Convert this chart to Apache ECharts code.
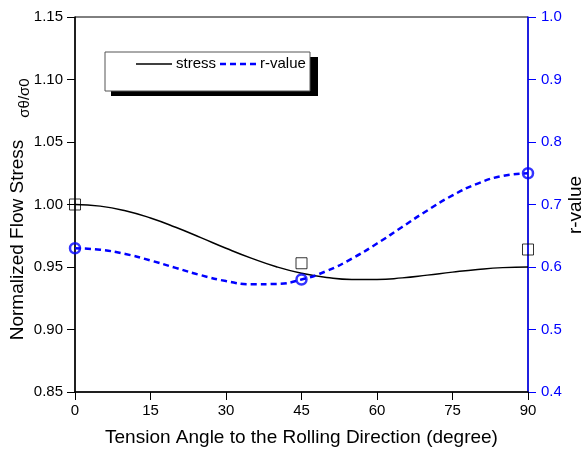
<!DOCTYPE html>
<html>
<head>
<meta charset="utf-8">
<script src="https://cdn.jsdelivr.net/npm/echarts@6/dist/echarts.min.js"></script>
<style>html,body{margin:0;padding:0;background:#fff;}#c{width:587px;height:452px;}</style>
</head>
<body>
<div id="c"></div>
<script>
// Data
var angles = [0, 5, 10, 15, 20, 25, 30, 35, 40, 45, 50, 55, 60, 65, 70, 75, 80, 85, 90];
var stressCurve = [1.000, 0.9987, 0.9950, 0.9892, 0.9818, 0.9735, 0.9650, 0.9571, 0.9502, 0.9450, 0.9416, 0.9400, 0.9400, 0.9413, 0.9435, 0.9459, 0.9480, 0.9495, 0.9500];
var rCurve = [0.630, 0.6276, 0.6208, 0.6105, 0.5986, 0.5869, 0.5775, 0.5724, 0.5729, 0.580, 0.5937, 0.6134, 0.6375, 0.6640, 0.6905, 0.7145, 0.7335, 0.7458, 0.750];
var measAngles = [0, 45, 90];
var stressMeas = [1.000, 0.953, 0.964];
var rMeas = [0.630, 0.580, 0.750];
var xTicks = [0, 15, 30, 45, 60, 75, 90];
var seriesNames = ['stress', 'r-value'];

function pairs(xs, ys) { return xs.map(function (x, i) { return [x, ys[i]]; }); }

var FONT = 'Liberation Sans, Arial, sans-serif';
var BLUE = '#0000ff';
var chart = echarts.init(document.getElementById('c'));
chart.setOption({
  animation: false,
  backgroundColor: '#fff',
  grid: { left: 75, right: 59, top: 17, bottom: 60, show: true, borderColor: '#000', borderWidth: 1 },
  xAxis: {
    type: 'value', min: xTicks[0], max: xTicks[xTicks.length - 1], interval: 15,
    axisLine: { show: true, lineStyle: { color: '#000', width: 1.5 } },
    axisTick: { show: true, length: 8, lineStyle: { color: '#000' } },
    axisLabel: { color: '#000', fontSize: 15, fontFamily: FONT, margin: 11 },
    splitLine: { show: false },
    name: 'Tension Angle to the Rolling Direction (degree)',
    nameLocation: 'middle', nameGap: 36,
    nameTextStyle: { color: '#000', fontSize: 19, fontFamily: FONT }
  },
  yAxis: [{
    type: 'value', min: 0.85, max: 1.15, interval: 0.05,
    axisLine: { show: true, lineStyle: { color: '#000', width: 1.5 } },
    axisTick: { show: true, length: 8, lineStyle: { color: '#000' } },
    axisLabel: { color: '#000', fontSize: 15, fontFamily: FONT, margin: 12, formatter: function (v) { return v.toFixed(2); } },
    splitLine: { show: false }
  }, {
    type: 'value', min: 0.4, max: 1.0, interval: 0.1, position: 'right',
    axisLine: { show: true, lineStyle: { color: BLUE, width: 1.5 } },
    axisTick: { show: true, length: 8, lineStyle: { color: BLUE } },
    axisLabel: { color: BLUE, fontSize: 15, fontFamily: FONT, margin: 13, formatter: function (v) { return v.toFixed(1); } },
    splitLine: { show: false }
  }],
  graphic: [
    { type: 'rect', z: 1, shape: { x: 111, y: 57, width: 207, height: 39 }, style: { fill: '#000' } },
    { type: 'rect', z: 2, shape: { x: 105, y: 52, width: 205, height: 39 }, style: { fill: '#fff', stroke: '#555', lineWidth: 1 } },
    { type: 'line', z: 3, shape: { x1: 136, y1: 64, x2: 172, y2: 64 }, style: { stroke: '#000', lineWidth: 1.5 } },
    { type: 'text', z: 3, x: 176, y: 64, style: { text: seriesNames[0], align: 'left', verticalAlign: 'middle', fontSize: 15, fontFamily: FONT, fill: '#000' } },
    { type: 'line', z: 3, shape: { x1: 220, y1: 64, x2: 258, y2: 64 }, style: { stroke: BLUE, lineWidth: 2.5, lineDash: [6, 4] } },
    { type: 'text', z: 3, x: 260, y: 64, style: { text: seriesNames[1], align: 'left', verticalAlign: 'middle', fontSize: 15, fontFamily: FONT, fill: '#000' } },
    { type: 'text', z: 5, x: 18, y: 240, rotation: Math.PI / 2,
      style: { text: 'Normalized Flow Stress', align: 'center', verticalAlign: 'middle', fontSize: 19, fontFamily: FONT, fill: '#000' } },
    { type: 'text', z: 5, x: 25, y: 98, rotation: Math.PI / 2,
      style: { text: 'σθ/σ0', align: 'center', verticalAlign: 'middle', fontSize: 15, fontFamily: FONT, fill: '#000' } },
    { type: 'text', z: 5, x: 576, y: 205, rotation: Math.PI / 2,
      style: { text: 'r-value', align: 'center', verticalAlign: 'middle', fontSize: 19, fontFamily: FONT, fill: '#000' } }
  ],
  series: [{
    name: seriesNames[0], type: 'line', yAxisIndex: 0, smooth: true, symbol: 'none',
    data: pairs(angles, stressCurve),
    lineStyle: { color: '#000', width: 1.5 }, itemStyle: { color: '#000' }
  }, {
    name: seriesNames[1], type: 'line', yAxisIndex: 1, smooth: true, symbol: 'none',
    data: pairs(angles, rCurve),
    lineStyle: { color: BLUE, width: 2.5, type: [6, 4] }, itemStyle: { color: BLUE }
  }, {
    name: 'stress-pts', type: 'scatter', yAxisIndex: 0, symbol: 'rect', symbolSize: 11, clip: false,
    data: pairs(measAngles, stressMeas),
    itemStyle: { color: 'rgba(255,255,255,0)', borderColor: '#000', borderWidth: 1 }, z: 5
  }, {
    name: 'r-pts', type: 'scatter', yAxisIndex: 1, symbol: 'circle', symbolSize: 10, clip: false,
    data: pairs(measAngles, rMeas),
    itemStyle: { color: 'rgba(255,255,255,0)', borderColor: BLUE, borderWidth: 2.5 }, z: 5
  }]
});
</script>
</body>
</html>
